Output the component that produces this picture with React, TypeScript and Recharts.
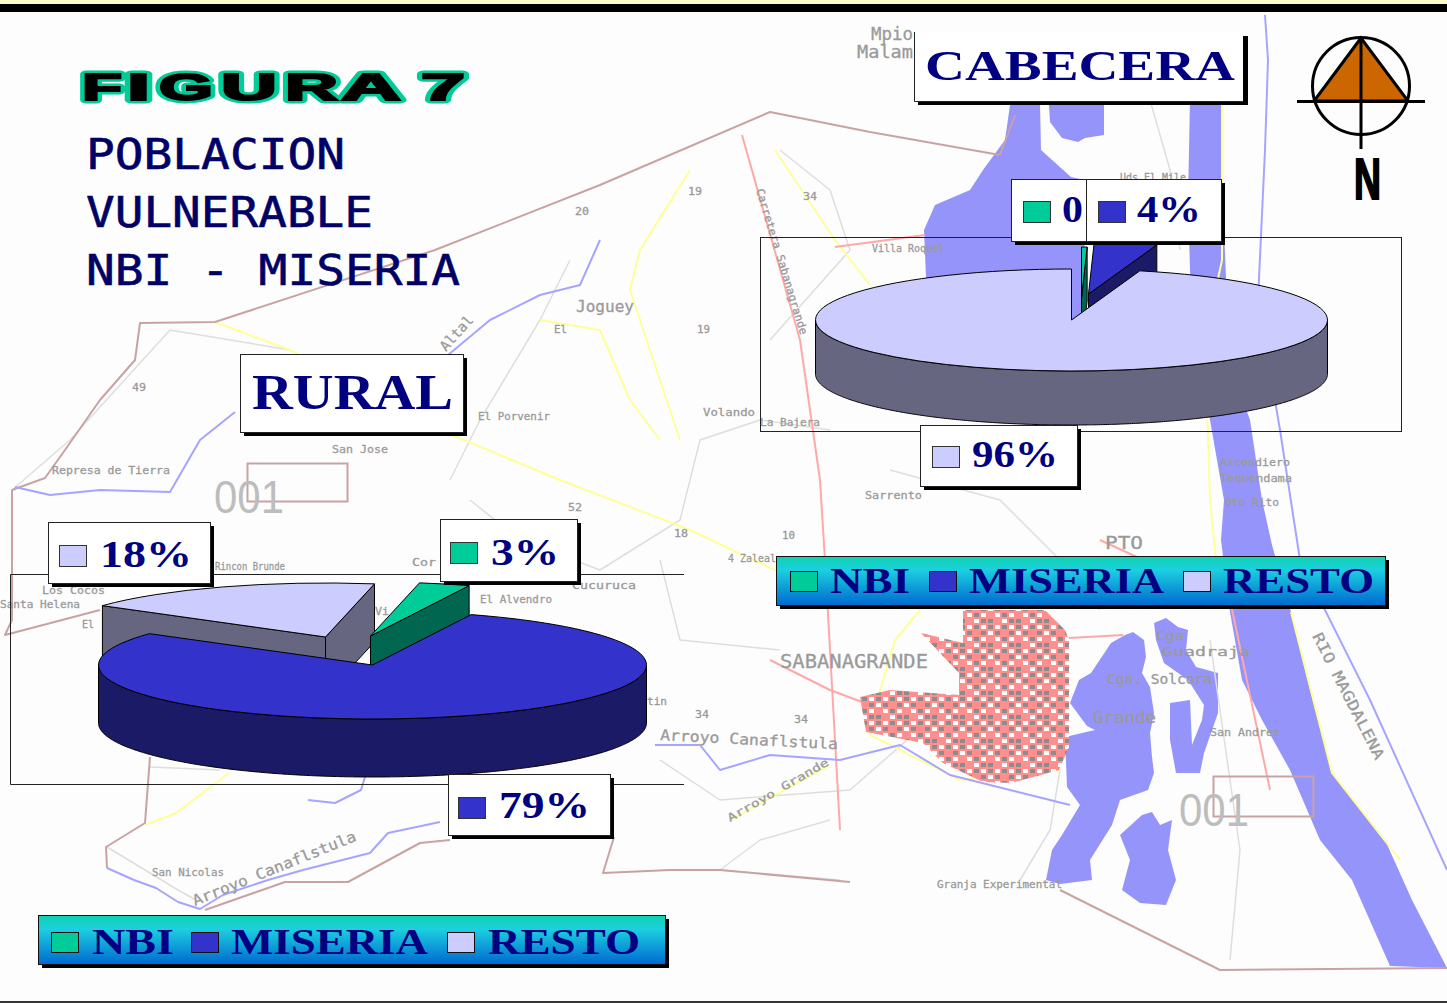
import React from 'react';
import { PieChart, Pie } from 'recharts';

// ---------- chart data ----------
const ruralNames = ['RESTO', 'NBI', 'MISERIA'];
const ruralValues = [18, 3, 79];
const ruralLabels = ['18%', '3%', '79%'];
const cabeceraNames = ['NBI', 'MISERIA', 'RESTO'];
const cabeceraValues = [0.35, 3.95, 95.7];
const cabeceraLabels = ['0', '4%', '96%'];
const legendNames = ['NBI', 'MISERIA', 'RESTO'];
const titleLines = ['POBLACION', 'VULNERABLE', 'NBI - MISERIA'];
const figureLetters = ['F', 'I', 'G', 'U', 'R', 'A', '7'];

const ruralData = ruralNames.map((name, i) => ({ name, value: ruralValues[i], label: ruralLabels[i] }));
const cabeceraData = cabeceraNames.map((name, i) => ({ name, value: cabeceraValues[i], label: cabeceraLabels[i] }));

// ---------- styles ----------
const W = 1447;
const H = 1003;
const NAVY = '#000080';
const SERIF = '"Liberation Serif", serif';
const topColor: Record<string, string> = { NBI: '#00cc99', MISERIA: '#3333cc', RESTO: '#ccccff' };
const sideColor: Record<string, string> = { NBI: '#006650', MISERIA: '#1a1a66', RESTO: '#666680' };

const ruralExplode: Record<string, number[]> = { RESTO: [-47, -28], NBI: [-2, -29], MISERIA: [0, 0] };
const cabeceraExplode: Record<string, number[]> = { NBI: [10, -22], MISERIA: [17, -26], RESTO: [0, 0] };

const ruralBoxes: Record<string, any> = {
  RESTO: { x: 48, y: 522, w: 162, h: 61, sx: 59, sy: 545, tx: 100, tw: 92, by: 567 },
  NBI: { x: 440, y: 519, w: 137, h: 62, sx: 450, sy: 542, tx: 491, tw: 68, by: 565 },
  MISERIA: { x: 448, y: 774, w: 162, h: 61, sx: 458, sy: 797, tx: 499, tw: 91, by: 818 },
};
const cabeceraBoxes: Record<string, any> = {
  NBI: { x: 1011, y: 179, w: 75, h: 62, sx: 1023, sy: 201, tx: 1062, tw: 21, by: 222 },
  MISERIA: { x: 1086, y: 179, w: 135, h: 62, sx: 1098, sy: 201, tx: 1137, tw: 64, by: 222 },
  RESTO: { x: 920, y: 425, w: 157, h: 61, sx: 932, sy: 446, tx: 972, tw: 86, by: 467 },
};

// 3-D slice: the angles and centre come from Recharts' pie layout, the shape is projected to an ellipse
function makeSlice(squash: number, depth: number, explode: Record<string, number[]>) {
  return function Slice(p: any) {
    const name = p.payload?.name ?? p.name;
    const [ox, oy] = explode[name];
    const R = p.outerRadius;
    const rx = R;
    const ry = R * squash;
    const ax = p.cx + ox;
    const ay = p.cy + oy;
    const pt = (deg: number) => {
      const t = (deg * Math.PI) / 180;
      return [ax + rx * Math.cos(t), ay - ry * Math.sin(t)];
    };
    const [sx, sy] = pt(p.startAngle);
    const [ex, ey] = pt(p.endAngle);
    const span = Math.abs(p.startAngle - p.endAngle);
    const large = span > 180 ? 1 : 0;
    const line = { stroke: '#000', strokeWidth: 1, strokeLinejoin: 'round' as const };
    const side = sideColor[name];
    const rad = Math.PI / 180;
    const showStart = Math.cos(p.startAngle * rad) < -0.01;
    const showEnd = Math.cos(p.endAngle * rad) > 0.01;
    // outer wall: only the front (lower) part of the arc faces the viewer
    const front: number[][] = [];
    const a0 = Math.max(p.startAngle, p.endAngle);
    const a1 = Math.min(p.startAngle, p.endAngle);
    for (let a = a0; a >= a1; a -= 0.5) {
      if (Math.sin(a * rad) <= 0) front.push(pt(a));
    }
    const wall =
      front.length > 1
        ? 'M' +
          front.map((q) => `${q[0]},${q[1]}`).join('L') +
          'L' +
          [...front].reverse().map((q) => `${q[0]},${q[1] + depth}`).join('L') +
          'Z'
        : '';
    return (
      <g>
        {showStart && <path d={`M${ax},${ay}L${sx},${sy}L${sx},${sy + depth}L${ax},${ay + depth}Z`} fill={side} {...line} />}
        {showEnd && <path d={`M${ax},${ay}L${ex},${ey}L${ex},${ey + depth}L${ax},${ay + depth}Z`} fill={side} {...line} />}
        {wall && <path d={wall} fill={side} {...line} />}
        <path d={`M${ax},${ay}L${sx},${sy}A${rx},${ry} 0 ${large} 1 ${ex},${ey}Z`} fill={topColor[name]} {...line} />
      </g>
    );
  };
}

function makeLabel(boxes: Record<string, any>) {
  return function SliceLabel(p: any) {
    const name = p.payload?.name ?? p.name;
    const b = boxes[name];
    return (
      <g>
        <rect x={b.x + 4} y={b.y + 4} width={b.w} height={b.h} fill="#000" />
        <rect x={b.x + 0.5} y={b.y + 0.5} width={b.w} height={b.h} fill="#fff" stroke="#222" strokeWidth={1} />
        <rect x={b.sx + 0.5} y={b.sy + 0.5} width={27} height={21} fill={topColor[name]} stroke="#333" strokeWidth={1} />
        <text
          x={b.tx}
          y={b.by}
          fontFamily={SERIF}
          fontWeight="bold"
          fontSize={37}
          fill={NAVY}
          textLength={b.tw}
          lengthAdjust="spacingAndGlyphs"
        >
          {p.payload?.label}
        </text>
      </g>
    );
  };
}

// ---------- background map (decoration) ----------
const riverMain = 'M1190,100 L1222,100 L1222,180 L1226,277 L1222,340 L1250,420 L1262,500 L1272,545 L1291,612 L1310,690 L1332,773 L1385,840 L1412,900 L1447,968 L1390,966 L1352,880 L1320,840 L1290,770 L1262,720 L1242,680 L1230,612 L1221,540 L1224,500 L1210,420 L1192,340 L1190,270 L1188,200 Z';
const leftBlue = 'M1010,105 L1040,105 L1041,150 L1071,177 L1085,180 L1084,330 L926,330 L926,277 L924,230 L935,205 L970,190 L983,170 L1005,140 Z';
const upperBlob = 'M1049,105 L1104,105 L1104,135 L1085,138 L1078,142 L1062,138 L1050,122 Z';
const lagoonGrande = 'M1111,643 L1125,635 L1133,632 L1144,640 L1146,657 L1142,673 L1150,687 L1154,713 L1150,733 L1152,757 L1154,773 L1148,790 L1120,800 L1112,825 L1090,860 L1092,880 L1060,884 L1046,880 L1052,850 L1062,835 L1080,805 L1067,787 L1065,737 L1095,730 L1087,726 L1070,703 L1079,680 L1091,673 Z';
const lagoonGuadraja = 'M1154,623 L1166,618 L1178,627 L1188,630 L1186,650 L1196,667 L1218,673 L1218,713 L1204,753 L1200,773 L1176,773 L1170,740 L1170,703 L1190,700 L1192,745 L1202,720 L1204,705 L1188,680 L1164,663 L1156,640 Z';
const blobSouth = 'M1142,815 L1152,812 L1160,825 L1172,820 L1168,850 L1176,880 L1166,905 L1140,903 L1122,890 L1130,860 L1120,835 Z';
const cityShape = 'M963,610 L1045,610 L1065,630 L1069,640 L1069,747 L1059,770 L1011,783 L983,782 L943,763 L923,743 L866,732 L860,697 L890,690 L959,695 L959,673 L921,633 L963,643 Z';

const roadsBrown = [
  'M1000,155 L870,132 L770,112 L600,185 L435,250 L215,322 L140,323 L135,360 L100,400 L65,450 L45,478 L12,490 L12,620 L5,635 L100,610',
  'M150,757 L145,823 L106,847 L107,868',
  'M205,910 L285,882 L348,882 L420,843 L450,840',
  'M614,837 L603,873 L670,870 L720,870 L850,882',
  'M1060,890 L1220,970 L1447,968',
  'M1000,155 L1015,115',
];
const roadsPink = [
  'M742,135 L800,340 L820,480 L825,560 L840,830',
  'M770,660 L830,690 L862,702',
  'M1069,638 L1123,635',
  'M1100,540 L1230,600 L1270,790',
  'M835,247 L925,235',
];
const roadsYellow = [
  'M690,170 L640,250 L630,290 L660,380 L680,440',
  'M215,322 L290,350 L440,430 L560,480 L690,530 L775,570',
  'M775,570 L870,580 L920,610 L895,640 L880,690 L870,735 L960,780 L1060,770',
  'M540,320 L600,330 L630,400 L660,440',
  'M1222,100 L1222,260 L1205,340 L1210,500 L1220,600',
  'M1291,612 L1332,773 L1400,860',
  'M229,773 L176,813 L145,825',
  'M730,820 L830,765',
  'M775,150 L835,240 L870,285',
];
const roadsGrey = [
  'M12,490 L70,440 L170,330 L290,350',
  'M450,480 L480,420 L540,320 L570,260',
  'M470,500 L520,540 L600,570 L680,520 L700,440 L760,420 L830,430',
  'M660,560 L680,640 L780,650',
  'M660,760 L720,800 L850,790 L930,720',
  'M107,847 L178,890 L196,900',
  'M150,767 L220,770',
  'M780,150 L830,190 L850,250 L770,340',
  'M890,470 L1000,500 L1060,560 L1100,610',
  'M1150,100 L1170,170 L1180,250',
  'M1210,640 L1240,850 L1230,960',
  'M830,820 L760,840 L720,870 L840,880',
  'M1060,770 L1050,830 L1020,880',
];
const streams = [
  'M15,487 L50,495 L100,490 L170,492 L200,440 L235,412',
  'M442,360 L490,320 L540,295 L580,285 L600,240',
  'M1265,15 L1268,60 L1265,150 L1258,300 L1280,430 L1300,560 L1320,600 L1370,700 L1447,870',
  'M308,800 L335,803 L361,790 L365,777',
  'M107,868 L134,880 L156,888 L178,902 L200,909 L223,895 L268,880 L303,870 L370,853 L388,833 L440,822',
  'M655,745 L700,745 L720,770 L770,755 L840,760 L900,745 L950,775 L1030,795 L1070,805',
];
type Place = { t: string; x: number; y: number; w: number; s: number; r?: number };
const placeLabels: Place[] = [
  { t: 'Mpio', x: 871, y: 40, w: 42, s: 17 },
  { t: 'Malam', x: 857, y: 58, w: 56, s: 17 },
  { t: 'Joguey', x: 576, y: 312, w: 58, s: 16 },
  { t: 'Uds El Mile', x: 1120, y: 181, w: 66, s: 10 },
  { t: 'Villa Roquel', x: 872, y: 252, w: 72, s: 11 },
  { t: 'El Porvenir', x: 478, y: 420, w: 72, s: 11 },
  { t: 'Volando', x: 703, y: 416, w: 52, s: 11 },
  { t: 'La Bajera', x: 760, y: 426, w: 60, s: 11 },
  { t: 'San Jose', x: 332, y: 453, w: 56, s: 11 },
  { t: 'Represa de Tierra', x: 52, y: 474, w: 118, s: 11 },
  { t: 'Sarrento', x: 865, y: 499, w: 57, s: 11 },
  { t: 'PTO', x: 1105, y: 549, w: 38, s: 17 },
  { t: 'SABANAGRANDE', x: 780, y: 668, w: 148, s: 19 },
  { t: 'Cga', x: 1156, y: 640, w: 28, s: 13 },
  { t: 'Guadraja', x: 1162, y: 656, w: 88, s: 13 },
  { t: 'Cga. Solcora', x: 1107, y: 684, w: 105, s: 14 },
  { t: 'Grande', x: 1093, y: 723, w: 63, s: 16 },
  { t: 'San Andres', x: 1210, y: 736, w: 70, s: 11 },
  { t: 'Granja Experimental', x: 937, y: 888, w: 125, s: 11 },
  { t: 'San Nicolas', x: 152, y: 876, w: 72, s: 11 },
  { t: 'Los Cocos', x: 42, y: 594, w: 63, s: 11 },
  { t: 'Santa Helena', x: 0, y: 608, w: 80, s: 11 },
  { t: 'Rincon Brunde', x: 215, y: 570, w: 70, s: 11 },
  { t: 'El Alvendro', x: 480, y: 603, w: 72, s: 11 },
  { t: 'Cucuruca', x: 572, y: 589, w: 64, s: 11 },
  { t: '4 Zaleal', x: 728, y: 562, w: 48, s: 11 },
  { t: 'Ascendiero', x: 1220, y: 466, w: 70, s: 11 },
  { t: 'Tequendama', x: 1220, y: 482, w: 72, s: 11 },
  { t: 'Oto Rito', x: 1225, y: 506, w: 54, s: 11 },
  { t: 'Arroyo Canaflstula', x: 660, y: 740, w: 178, s: 15, r: 3 },
  { t: 'Arroyo Canaflstula', x: 195, y: 906, w: 175, s: 15, r: -22 },
  { t: 'RIO MAGDALENA', x: 1312, y: 636, w: 140, s: 15, r: 63 },
  { t: 'Altal', x: 446, y: 352, w: 42, s: 14, r: -48 },
  { t: 'Carretera Sabanagrande', x: 756, y: 190, w: 152, s: 11, r: 73 },
  { t: 'Arroyo Grande', x: 730, y: 822, w: 115, s: 11, r: -30 },
  { t: 'Cor', x: 412, y: 566, w: 24, s: 11 },
  { t: '34', x: 803, y: 200, w: 14, s: 10 },
  { t: '19', x: 688, y: 195, w: 14, s: 10 },
  { t: '20', x: 575, y: 215, w: 14, s: 10 },
  { t: '49', x: 132, y: 391, w: 14, s: 10 },
  { t: 'El', x: 554, y: 333, w: 13, s: 10 },
  { t: '19', x: 697, y: 333, w: 13, s: 10 },
  { t: '52', x: 568, y: 511, w: 14, s: 10 },
  { t: '18', x: 674, y: 537, w: 14, s: 10 },
  { t: '10', x: 782, y: 539, w: 13, s: 10 },
  { t: '34', x: 695, y: 718, w: 14, s: 11 },
  { t: '34', x: 794, y: 723, w: 14, s: 11 },
  { t: 'El', x: 82, y: 628, w: 12, s: 10 },
  { t: 'Vi', x: 375, y: 615, w: 14, s: 11 },
  { t: 'tin', x: 647, y: 705, w: 20, s: 11 },
];

function LegendBar({ x, y, w, id, sw, tx, tw, by }: any) {
  const h = 49;
  return (
    <g>
      <rect x={x + 4} y={y + 4} width={w} height={h} fill="#000" />
      <rect x={x + 0.5} y={y + 0.5} width={w} height={h} fill={`url(#${id})`} stroke="#111" strokeWidth={1} />
      {legendNames.map((n, i) => (
        <g key={n}>
          <rect x={sw[i] + 0.5} y={by - 21.5} width={27} height={20} fill={topColor[n]} stroke="#111" strokeWidth={1} />
          <text
            x={tx[i]}
            y={by}
            fontFamily={SERIF}
            fontWeight="bold"
            fontSize={35}
            fill={NAVY}
            textLength={tw[i]}
            lengthAdjust="spacingAndGlyphs"
          >
            {n}
          </text>
        </g>
      ))}
    </g>
  );
}

function MapLayer() {
  const lines = (arr: string[], color: string, width: number) =>
    arr.map((d, i) => <path key={color + i} d={d} fill="none" stroke={color} strokeWidth={width} strokeLinejoin="round" />);
  const letterX = [82, 127, 159, 221, 285, 341, 421];
  const letterW = [40, 23, 54, 56, 53, 60, 44];
  return (
    <svg width={W} height={H} style={{ position: 'absolute', left: 0, top: 0 }}>
      <defs>
        <linearGradient id="barA" x1="0" y1="0" x2="0" y2="1">
          <stop offset="0" stopColor="#10d2b0" />
          <stop offset="0.28" stopColor="#1ccfe0" />
          <stop offset="1" stopColor="#0068d0" />
        </linearGradient>
        <linearGradient id="barB" x1="0" y1="0" x2="0" y2="1">
          <stop offset="0" stopColor="#10d2b0" />
          <stop offset="0.28" stopColor="#1ccfe0" />
          <stop offset="1" stopColor="#0068d0" />
        </linearGradient>
        <pattern id="city" width="28" height="24" patternUnits="userSpaceOnUse">
          <rect width="28" height="24" fill="#ff8f8f" />
          <rect x="1" y="1" width="5" height="4" fill="#fff" />
          <rect x="8" y="1" width="5" height="4" fill="#8c8c8c" />
          <rect x="15" y="1" width="5" height="4" fill="#fff" />
          <rect x="22" y="1" width="5" height="4" fill="#8c8c8c" />
          <rect x="1" y="7" width="5" height="4" fill="#8c8c8c" />
          <rect x="8" y="7" width="5" height="4" fill="#fff" />
          <rect x="15" y="7" width="5" height="4" fill="#8c8c8c" />
          <rect x="22" y="7" width="5" height="4" fill="#ff8f8f" />
          <rect x="1" y="13" width="5" height="4" fill="#fff" />
          <rect x="8" y="13" width="5" height="4" fill="#ff8f8f" />
          <rect x="15" y="13" width="5" height="4" fill="#fff" />
          <rect x="22" y="13" width="5" height="4" fill="#8c8c8c" />
          <rect x="1" y="19" width="5" height="4" fill="#8c8c8c" />
          <rect x="8" y="19" width="5" height="4" fill="#8c8c8c" />
          <rect x="15" y="19" width="5" height="4" fill="#ff8f8f" />
          <rect x="22" y="19" width="5" height="4" fill="#fff" />
        </pattern>
      </defs>
      <rect width={W} height={H} fill="#fdfdfd" />
      <rect width={W} height={5} fill="#ffffcc" />
      <rect y={4} width={W} height={8} fill="#000" />
      <rect y={1001} width={W} height={2} fill="#333" />

      <path d={riverMain} fill="#9494fb" />
      <path d={leftBlue} fill="#9494fb" />
      <path d={upperBlob} fill="#9494fb" />
      <path d={lagoonGrande} fill="#9494fb" />
      <path d={lagoonGuadraja} fill="#9494fb" />
      <path d={blobSouth} fill="#9494fb" />

      {lines(roadsGrey, '#dedede', 1.5)}
      {lines(roadsYellow, '#ffff99', 2)}
      {lines(roadsPink, '#ffa8a8', 2)}
      {lines(roadsBrown, '#c9a3a3', 2)}
      {lines(streams, '#a5a5ff', 2)}

      <path d={cityShape} fill="url(#city)" />

      <rect x={247.5} y={463.5} width={100} height={38} fill="none" stroke="#c9a3a3" strokeWidth={2} />
      <rect x={1213.5} y={776.5} width={100} height={40} fill="none" stroke="#c9a3a3" strokeWidth={2} />
      <text x={214} y={513} fontFamily="Liberation Sans" fontSize={46} fill="#bdbdbd" textLength={70} lengthAdjust="spacingAndGlyphs">001</text>
      <text x={1179} y={826} fontFamily="Liberation Sans" fontSize={46} fill="#bdbdbd" textLength={70} lengthAdjust="spacingAndGlyphs">001</text>

      {placeLabels.map((p, i) => (
        <text
          key={i}
          x={p.x}
          y={p.y}
          fontFamily="DejaVu Sans Mono"
          fontSize={p.s}
          fill="#9a9a9a"
          stroke="#9a9a9a"
          strokeWidth={0.3}
          textLength={p.w}
          lengthAdjust="spacingAndGlyphs"
          transform={p.r ? `rotate(${p.r} ${p.x} ${p.y})` : undefined}
        >
          {p.t}
        </text>
      ))}

      {/* pie frames */}
      <rect x={760.5} y={237.5} width={641} height={194} fill="none" stroke="#222" strokeWidth={1} />
      <path d="M684,574.5 L10.5,574.5 L10.5,784.5 L684,784.5" fill="none" stroke="#222" strokeWidth={1} />

      {/* title */}
      {figureLetters.map((c, i) => (
        <text key={'g' + i} x={letterX[i]} y={100} fontFamily="Liberation Sans" fontWeight="bold" fontSize={37} fill="#00cc99" stroke="#00cc99" strokeWidth={7} strokeLinejoin="round" textLength={letterW[i]} lengthAdjust="spacingAndGlyphs">{c}</text>
      ))}
      {figureLetters.map((c, i) => (
        <text key={'b' + i} x={letterX[i]} y={100} fontFamily="Liberation Sans" fontWeight="bold" fontSize={37} fill="#000" stroke="#000" strokeWidth={2} textLength={letterW[i]} lengthAdjust="spacingAndGlyphs">{c}</text>
      ))}
      {titleLines.map((t, i) => (
        <text
          key={t}
          x={86}
          y={[169, 227, 285][i]}
          fontFamily="DejaVu Sans Mono"
          fontSize={43}
          fill="#000066"
          stroke="#000066"
          strokeWidth={0.6}
          textLength={[259, 287, 374][i]}
          lengthAdjust="spacingAndGlyphs"
        >
          {t}
        </text>
      ))}

      {/* CABECERA box */}
      <rect x={918} y={36} width={330} height={69} fill="#000" />
      <rect x={914} y={32} width={329} height={69} fill="#fff" />
      <path d="M914.5,32 L914.5,101.5 L1243,101.5" fill="none" stroke="#222" strokeWidth={1} />
      <text x={925} y={80} fontFamily={SERIF} fontWeight="bold" fontSize={43} fill={NAVY} textLength={310} lengthAdjust="spacingAndGlyphs">CABECERA</text>

      {/* RURAL box */}
      <rect x={244} y={358} width={223} height={78} fill="#000" />
      <rect x={240.5} y={354.5} width={223} height={78} fill="#fff" stroke="#222" strokeWidth={1} />
      <text x={252} y={409} fontFamily={SERIF} fontWeight="bold" fontSize={50} fill={NAVY} textLength={201} lengthAdjust="spacingAndGlyphs">RURAL</text>

      {/* North arrow */}
      <path d="M1361,38 L1314,101 L1408,101 Z" fill="#cc6600" stroke="#000" strokeWidth={3} />
      <circle cx={1361} cy={86} r={48.5} fill="none" stroke="#000" strokeWidth={3} />
      <path d="M1297,101.5 L1425,101.5 M1361,38 L1361,149" stroke="#000" strokeWidth={3} />
      <text x={1354} y={199} fontFamily="Liberation Sans" fontWeight="bold" fontSize={57} fill="#000" stroke="#000" strokeWidth={2} textLength={27} lengthAdjust="spacingAndGlyphs">N</text>

      <LegendBar x={776} y={556} w={609} id="barA" sw={[790, 929, 1183]} tx={[830, 969, 1223]} tw={[80, 195, 151]} by={593} />
      <LegendBar x={38} y={915} w={627} id="barB" sw={[51, 191, 447]} tx={[92, 231, 488]} tw={[82, 197, 152]} by={954} />
    </svg>
  );
}

const RuralSlice = makeSlice(54 / 274, 58, ruralExplode);
const CabeceraSlice = makeSlice(51 / 256, 54, cabeceraExplode);
const RuralLabel = makeLabel(ruralBoxes);
const CabeceraLabel = makeLabel(cabeceraBoxes);

export default function App() {
  return (
    <div style={{ position: 'absolute', left: 0, top: 0, width: W, height: H, overflow: 'hidden', background: '#fdfdfd' }}>
      <MapLayer />
      <div style={{ position: 'absolute', left: 0, top: 0 }}>
        <PieChart width={W} height={H} margin={{ top: 0, right: 0, bottom: 0, left: 0 }}>
          <Pie
            data={cabeceraData}
            dataKey="value"
            nameKey="name"
            cx={1071.5}
            cy={320}
            outerRadius={256}
            startAngle={90}
            endAngle={-270}
            isAnimationActive={false}
            stroke="none"
            shape={CabeceraSlice}
            label={CabeceraLabel}
            labelLine={false}
          />
          <Pie
            data={ruralData}
            dataKey="value"
            nameKey="name"
            cx={372.5}
            cy={665}
            outerRadius={274}
            startAngle={144.5}
            endAngle={-215.5}
            isAnimationActive={false}
            stroke="none"
            shape={RuralSlice}
            label={RuralLabel}
            labelLine={false}
          />
        </PieChart>
      </div>
    </div>
  );
}
